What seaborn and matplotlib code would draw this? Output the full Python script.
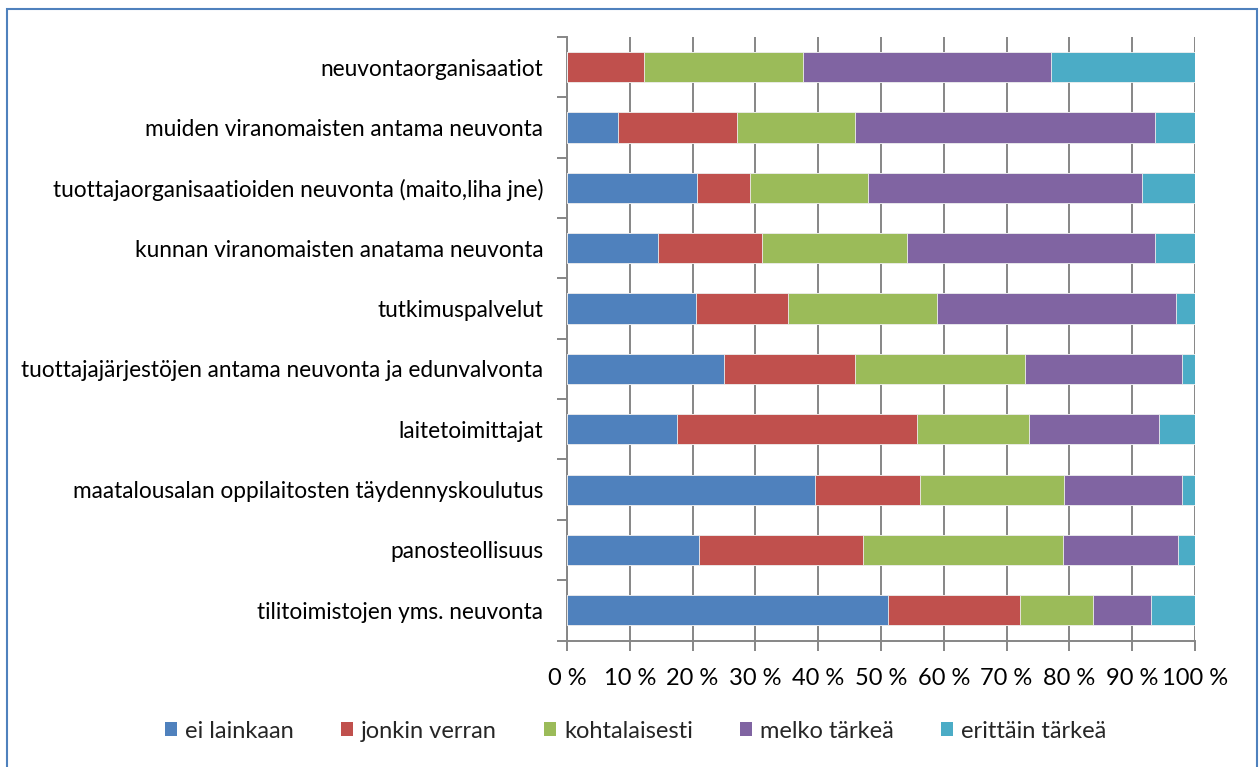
import matplotlib
matplotlib.use("Agg")
import matplotlib.pyplot as plt
import matplotlib.ticker as mticker
from matplotlib.patches import Patch, Rectangle
import numpy as np
import pandas as pd
import seaborn as sns

categories = [
    "neuvontaorganisaatiot",
    "muiden viranomaisten antama neuvonta",
    "tuottajaorganisaatioiden neuvonta (maito,liha jne)",
    "kunnan viranomaisten anatama neuvonta",
    "tutkimuspalvelut",
    "tuottajajärjestöjen antama neuvonta ja edunvalvonta",
    "laitetoimittajat",
    "maatalousalan oppilaitosten täydennyskoulutus",
    "panosteollisuus",
    "tilitoimistojen yms. neuvonta",
]
series_names = ["ei lainkaan", "jonkin verran", "kohtalaisesti", "melko tärkeä", "erittäin tärkeä"]
ei_lainkaan = [0.0, 8.2, 20.7, 14.5, 20.5, 25.0, 17.5, 39.5, 21.0, 51.1]
jonkin_verran = [12.3, 18.8, 8.4, 16.6, 14.7, 20.8, 38.3, 16.7, 26.2, 21.0]
kohtalaisesti = [25.2, 18.8, 18.8, 23.0, 23.7, 27.2, 17.8, 23.0, 31.8, 11.7]
melko_tarkea = [39.5, 47.8, 43.7, 39.5, 38.1, 25.0, 20.6, 18.8, 18.3, 9.2]
erittain_tarkea = [23.0, 6.4, 8.4, 6.4, 3.0, 2.0, 5.8, 2.0, 2.7, 7.0]
colors = ["#4F81BD", "#C0504D", "#9BBB59", "#8064A2", "#4BACC6"]

sns.set_theme(style="white")
plt.rcParams["font.family"] = ["Lato", "DejaVu Sans"]

values = np.array([ei_lainkaan, jonkin_verran, kohtalaisesti, melko_tarkea, erittain_tarkea])
shares = values / values.sum(axis=0) * 100
cumulative = np.cumsum(shares, axis=0)

fig = plt.figure(figsize=(12.59, 7.67), dpi=100)
ax = fig.add_axes([567 / 1259, 1 - 640.5 / 767, (1195 - 567) / 1259, (640.5 - 37) / 767])

# stacked bars: draw the running totals from the outermost segment inwards
for i in range(len(series_names) - 1, -1, -1):
    df = pd.DataFrame({"category": categories, "value": cumulative[i]})
    sns.barplot(data=df, x="value", y="category", order=categories, color=colors[i],
                orient="h", width=0.5, saturation=1, ax=ax, zorder=3,
                edgecolor="#f0f0f0", linewidth=0.6)

ax.set_xlim(0, 100)
ax.set_ylim(len(categories) - 0.5, -0.5)
ax.xaxis.set_major_locator(mticker.MultipleLocator(10))
ax.xaxis.set_major_formatter(mticker.FuncFormatter(lambda v, _: f"{v:.0f} %"))
ax.grid(axis="x", color="#868686", linewidth=1.4, zorder=0)
ax.grid(axis="y", visible=False)
ax.set_axisbelow(True)

ax.set_yticks(range(len(categories)))
ax.set_yticklabels(categories)
ax.set_yticks(np.arange(-0.5, len(categories), 1), minor=True)
ax.tick_params(axis="y", which="major", length=0, pad=17, labelsize=16.3, labelcolor="black")
ax.tick_params(axis="y", which="minor", left=True, length=7, width=1.4, color="#868686")
ax.tick_params(axis="x", which="major", bottom=True, length=7, width=1.4, color="#868686",
               pad=13, labelsize=17, labelcolor="black")
ax.set_xlabel("")
ax.set_ylabel("")
for side in ["top", "right"]:
    ax.spines[side].set_visible(False)
for side in ["left", "bottom"]:
    ax.spines[side].set_color("#868686")
    ax.spines[side].set_linewidth(1.4)

handles = [Patch(facecolor=c, edgecolor="none") for c in colors]
fig.legend(handles, series_names, loc="center", bbox_to_anchor=(0.505, 1 - 731 / 767), ncol=5,
           frameon=False, fontsize=17, handlelength=0.5, handleheight=0.5, columnspacing=2.0,
           handletextpad=0.35)

fig.patches.append(Rectangle((6.5 / 1259, -0.02), (1256.5 - 6.5) / 1259, 1.02 - 8.5 / 767,
                             transform=fig.transFigure, fill=False, edgecolor="#4F81BD",
                             linewidth=1.5))

fig.savefig("out.png", dpi=100)
